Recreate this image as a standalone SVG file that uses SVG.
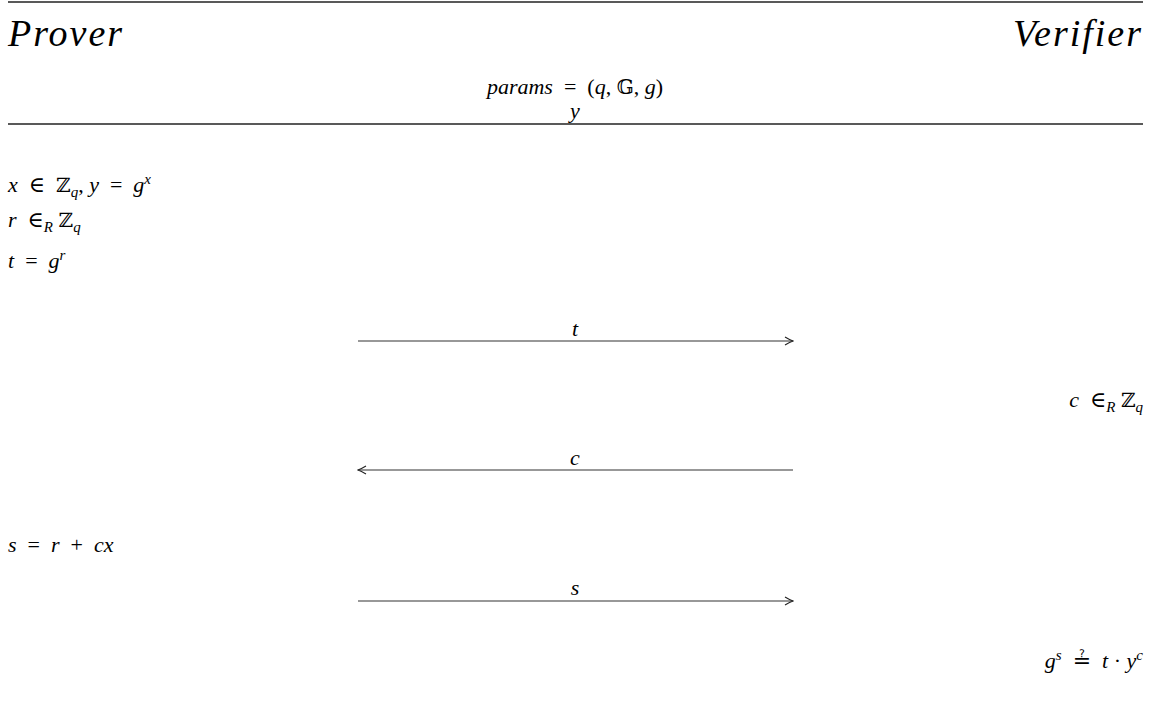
<svg xmlns="http://www.w3.org/2000/svg" width="1155" height="706" viewBox="0 0 1155 706">
<defs>
<style>
.m{font-family:"Liberation Serif","DejaVu Serif",serif;font-size:22px;fill:#000}
.i{font-style:italic}
.big{font-family:"Liberation Serif","DejaVu Serif",serif;font-style:italic;font-size:38px;fill:#000}
.bb{font-family:"DejaVu Serif","DejaVu Sans",serif;font-style:normal;font-size:20px}
.sup{font-size:15px}
.rule{stroke:#222;stroke-width:1.3}
.arr{stroke:#333;stroke-width:1.2;fill:none}
</style>
<marker id="ah" viewBox="0 0 10 10" refX="9" refY="5" markerWidth="10" markerHeight="10" markerUnits="userSpaceOnUse" orient="auto-start-reverse">
<path d="M1,1 Q6,4 9,5 Q6,6 1,9" fill="none" stroke="#222" stroke-width="1.1"/>
</marker>
</defs>
<rect width="1155" height="706" fill="#fff"/>
<g id="header">
<line class="rule" x1="8" y1="2" x2="1143" y2="2"/>
<text class="big" x="8" y="46" letter-spacing="2">Prover</text>
<text class="big" x="1143" y="46" text-anchor="end" letter-spacing="2">Verifier</text>
<text class="m" x="575" y="94" text-anchor="middle" xml:space="preserve"><tspan class="i">params</tspan>  =  (<tspan class="i">q</tspan>, <tspan class="bb">𝔾</tspan>, <tspan class="i">g</tspan>)</text>
<text class="m i" x="575" y="118" text-anchor="middle">y</text>
<line class="rule" x1="8" y1="124" x2="1143" y2="124"/>
</g>
<g id="prover-steps">
<text class="m" x="8" y="192" xml:space="preserve"><tspan class="i">x</tspan>  ∈  <tspan class="bb">ℤ</tspan><tspan class="i sup" dy="5">q</tspan><tspan dy="-5">, </tspan><tspan class="i">y</tspan>  =  <tspan class="i">g</tspan><tspan class="i sup" dy="-8">x</tspan></text>
<text class="m" x="8" y="227" xml:space="preserve"><tspan class="i">r</tspan>  ∈<tspan class="i sup" dy="5">R</tspan><tspan dy="-5"> </tspan><tspan class="bb">ℤ</tspan><tspan class="i sup" dy="5">q</tspan></text>
<text class="m" x="8" y="268" xml:space="preserve"><tspan class="i">t</tspan>  =  <tspan class="i">g</tspan><tspan class="i sup" dy="-8">r</tspan></text>
<text class="m" x="8" y="552" xml:space="preserve"><tspan class="i">s</tspan>  =  <tspan class="i">r</tspan>  +  <tspan class="i">cx</tspan></text>
</g>
<g id="verifier-steps">
<text class="m" x="1143" y="407" text-anchor="end" xml:space="preserve"><tspan class="i">c</tspan>  ∈<tspan class="i sup" dy="5">R</tspan><tspan dy="-5"> </tspan><tspan class="bb">ℤ</tspan><tspan class="i sup" dy="5">q</tspan></text>
<text class="m" x="1143" y="668" text-anchor="end" xml:space="preserve"><tspan class="i">g</tspan><tspan class="i sup" dy="-8">s</tspan><tspan dy="8">  </tspan><tspan font-family="DejaVu Sans">≟</tspan>  <tspan class="i">t</tspan> · <tspan class="i">y</tspan><tspan class="i sup" dy="-8">c</tspan></text>
</g>
<g id="connectors">
<line class="arr" x1="358" y1="341" x2="793" y2="341" marker-end="url(#ah)"/>
<text class="m i" x="575" y="336" text-anchor="middle">t</text>
<line class="arr" x1="793" y1="470" x2="358" y2="470" marker-end="url(#ah)"/>
<text class="m i" x="575" y="465" text-anchor="middle">c</text>
<line class="arr" x1="358" y1="601" x2="793" y2="601" marker-end="url(#ah)"/>
<text class="m i" x="575" y="595" text-anchor="middle">s</text>
</g>
</svg>
